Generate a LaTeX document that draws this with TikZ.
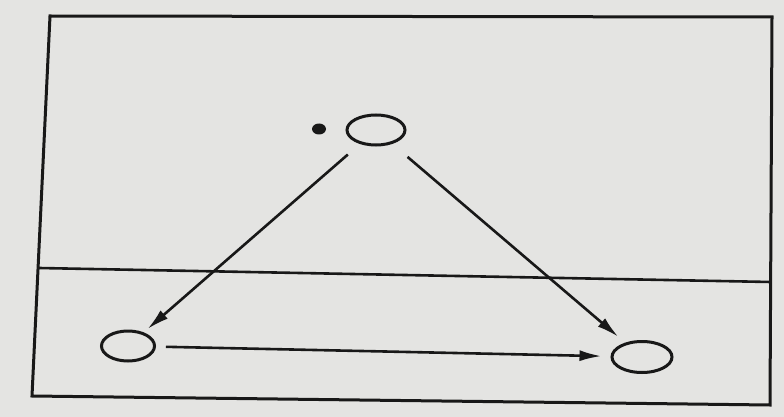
\documentclass[tikz,border=0pt]{standalone}
\usetikzlibrary{arrows.meta,shapes.geometric}
\definecolor{paper}{RGB}{228,228,226}
\definecolor{ink}{RGB}{24,24,24}
\tikzset{
  ring/.style={draw=ink,ellipse,line width=3pt,inner sep=0pt,minimum width=#1},
  ring/.default=56pt,
  flow/.style={draw=ink,line width=2.6pt,-{Latex[length=22pt,width=11pt]}},
  frameline/.style={draw=ink,line width=3pt}
}
\begin{document}
\begin{tikzpicture}[x=1pt,y=-1pt]
\useasboundingbox (0,0) rectangle (784,417);
\fill[paper] (0,0) rectangle (784,417);
% frame
\coordinate (tl) at (50,16);
\coordinate (tr) at (772,17);
\coordinate (br) at (770,405);
\coordinate (bl) at (32,396);
\coordinate (dl) at (39,268);
\coordinate (dr) at (771,282);
\draw[frameline] (tl) -- (tr) -- (br) -- (bl) -- cycle;
\draw[frameline,line width=2.6pt] (dl) -- (dr);
% nodes
\node[ring=58pt,minimum height=30pt] (top) at (376,130) {};
\node[fill=ink,ellipse,inner sep=0pt,minimum width=14pt,minimum height=11pt] (dot) at (319,129) {};
\node[ring=53pt,minimum height=30pt] (left) at (128,346) {};
\node[ring=60pt,minimum height=31pt] (right) at (642,357) {};
% connectors
\draw[flow,shorten <=16pt,shorten >=5pt] (top) -- (left);
\draw[flow,shorten <=20pt,shorten >=9pt] (top) -- (right);
\draw[flow,shorten <=10pt,shorten >=9pt] (left) -- (right);
\end{tikzpicture}
\end{document}
